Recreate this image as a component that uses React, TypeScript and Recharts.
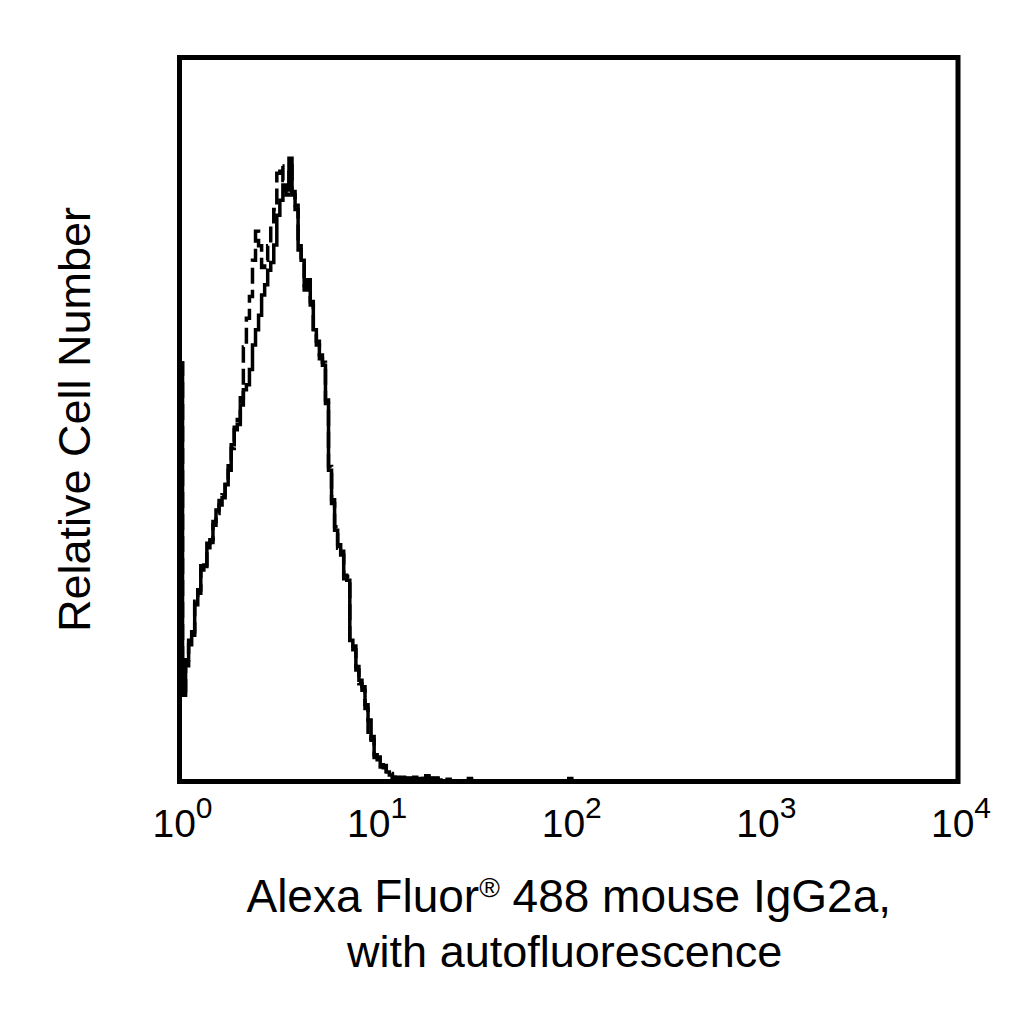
import React from "react";
import { LineChart, Line, XAxis, YAxis, ReferenceArea } from "recharts";

// Log-amplified channels (256 channels across 4 decades)
const CHANNELS: number[] = [
  ...Array.from({ length: 91 }, (_, i) => i),
  95, 96, 128, 129, 256,
];

// Isotype control (solid)
const SOLID: number[] = [
  57.8, 11.9, 16.8, 18.9, 20.7, 24.4, 26.5, 29.2, 29.9, 32.3,
  33.4, 35.4, 37.5, 38.2, 39.2, 41.0, 43.0, 46.5, 48.6, 49.3,
  52.0, 54.1, 54.8, 56.9, 60.3, 62.4, 64.4, 67.2, 68.6, 70.6,
  71.7, 74.1, 78.2, 80.3, 82.4, 81.7, 86.1, 81.0, 79.6, 73.4,
  72.0, 67.9, 69.3, 65.8, 62.4, 60.3, 58.9, 57.5, 52.7, 43.0,
  38.9, 34.7, 32.7, 31.3, 28.5, 27.8, 19.5, 18.2, 15.4, 14.0,
  12.6, 10.6, 8.5, 5.7, 3.7, 3.0, 2.3, 1.9, 1.3, 0.9,
  0.6, 0.5, 0.3, 0.6, 0.2, 0.5, 0.3, 0.6, 0.2, 0.4,
  0.3, 0.8, 0.4, 0.2, 0.5, 0.1, 0, 0, 0.3, 0,
  0,
  0.4, 0, 0.4, 0, 0,
];

// Autofluorescence (dashed)
const DASHED: number[] = [
  57.8, 12.5, 16.0, 19.5, 20.2, 24.9, 26.0, 29.8, 29.4, 32.9,
  33.0, 35.9, 37.0, 38.8, 39.6, 41.6, 43.6, 46.0, 49.2, 50.0,
  53.0, 60.0, 64.0, 67.0, 72.0, 76.0, 74.0, 71.0, 72.0, 74.0,
  77.0, 79.0, 84.0, 85.0, 83.0, 81.0, 85.0, 81.5, 79.0, 74.0,
  71.5, 68.5, 68.8, 66.3, 62.0, 60.8, 58.4, 57.9, 52.2, 43.5,
  38.4, 35.2, 32.2, 31.8, 28.0, 28.3, 19.0, 18.7, 15.9, 13.5,
  13.1, 10.1, 5.9, 6.2, 3.3, 3.4, 2.0, 2.2, 1.1, 1.1,
  0.5, 0.6, 0.2, 0.5, 0.3, 0.4, 0.4, 0.5, 0.3, 0.3,
  0.4, 0.7, 0.5, 0.1, 0.4, 0.2, 0, 0.1, 0.2, 0,
  0,
  0.3, 0, 0.3, 0, 0,
];

const TICK_CHANNELS = [0, 64, 128, 192, 256];
const TICK_EXPONENTS = ["0", "1", "2", "3", "4"];

const X_LABEL_1 = "Alexa Fluor";
const X_LABEL_REG = "®";
const X_LABEL_1B = " 488 mouse IgG2a,";
const X_LABEL_2 = "with autofluorescence";
const Y_LABEL = "Relative Cell Number";

const FONT = "'Liberation Sans', Arial, Helvetica, sans-serif";

const data = CHANNELS.map((ch, i) => ({ ch, solid: SOLID[i], dashed: DASHED[i] }));

function DecadeTick(props: any) {
  const { x, y, payload } = props;
  const idx = TICK_CHANNELS.indexOf(payload.value);
  return (
    <text x={x + 3} y={y + 55.5} textAnchor="middle" fontFamily={FONT} fontSize={39} fill="#000">
      10
      <tspan dy={-19} fontSize={30}>
        {TICK_EXPONENTS[idx]}
      </tspan>
    </text>
  );
}

function XLabel(props: any) {
  const vb = props.viewBox || {};
  const cx = vb.x + vb.width / 2;
  const top = vb.y;
  return (
    <g>
      <text x={cx} y={top + 130.5} textAnchor="middle" fontFamily={FONT} fontSize={46} fill="#000">
        {X_LABEL_1}
        <tspan dy={-15} fontSize={28}>{X_LABEL_REG}</tspan>
        <tspan dy={15}>{X_LABEL_1B}</tspan>
      </text>
      <text x={cx - 4} y={top + 185.5} textAnchor="middle" fontFamily={FONT} fontSize={45} fill="#000">
        {X_LABEL_2}
      </text>
    </g>
  );
}

function YLabel(props: any) {
  const vb = props.viewBox || {};
  const bx = 82;
  const cy = vb.y + vb.height / 2;
  return (
    <text
      x={bx}
      y={cy}
      textAnchor="middle"
      fontFamily={FONT}
      fontSize={45}
      fill="#000"
      transform={`rotate(-90, ${bx}, ${cy})`}
    >
      {Y_LABEL}
    </text>
  );
}

export default function App() {
  return (
    <div style={{ width: 1000, height: 1000, background: "#fff" }}>
      <LineChart
        width={1000}
        height={1000}
        data={data}
        margin={{ top: 49.5, right: 50, bottom: 26.5, left: 71.5 }}
      >
        <XAxis
          dataKey="ch"
          type="number"
          domain={[0, 256]}
          ticks={TICK_CHANNELS}
          interval={0}
          axisLine={false}
          tickLine={false}
          tickSize={0}
          tickMargin={0}
          height={200}
          tick={<DecadeTick />}
          label={{ content: <XLabel /> }}
        />
        <YAxis
          type="number"
          domain={[0, 100]}
          width={100}
          tick={false}
          axisLine={false}
          tickLine={false}
          label={{ content: <YLabel /> }}
        />
        <Line
          type="stepAfter"
          dataKey="dashed"
          stroke="#000"
          strokeWidth={3.5}
          strokeDasharray="16 6"
          dot={false}
          isAnimationActive={false}
        />
        <Line
          type="stepAfter"
          dataKey="solid"
          stroke="#000"
          strokeWidth={3.5}
          dot={false}
          isAnimationActive={false}
        />
        <ReferenceArea
          x1={0}
          x2={256}
          y1={0}
          y2={100}
          fill="none"
          fillOpacity={0}
          stroke="#000"
          strokeWidth={5}
          ifOverflow="visible"
        />
      </LineChart>
    </div>
  );
}
